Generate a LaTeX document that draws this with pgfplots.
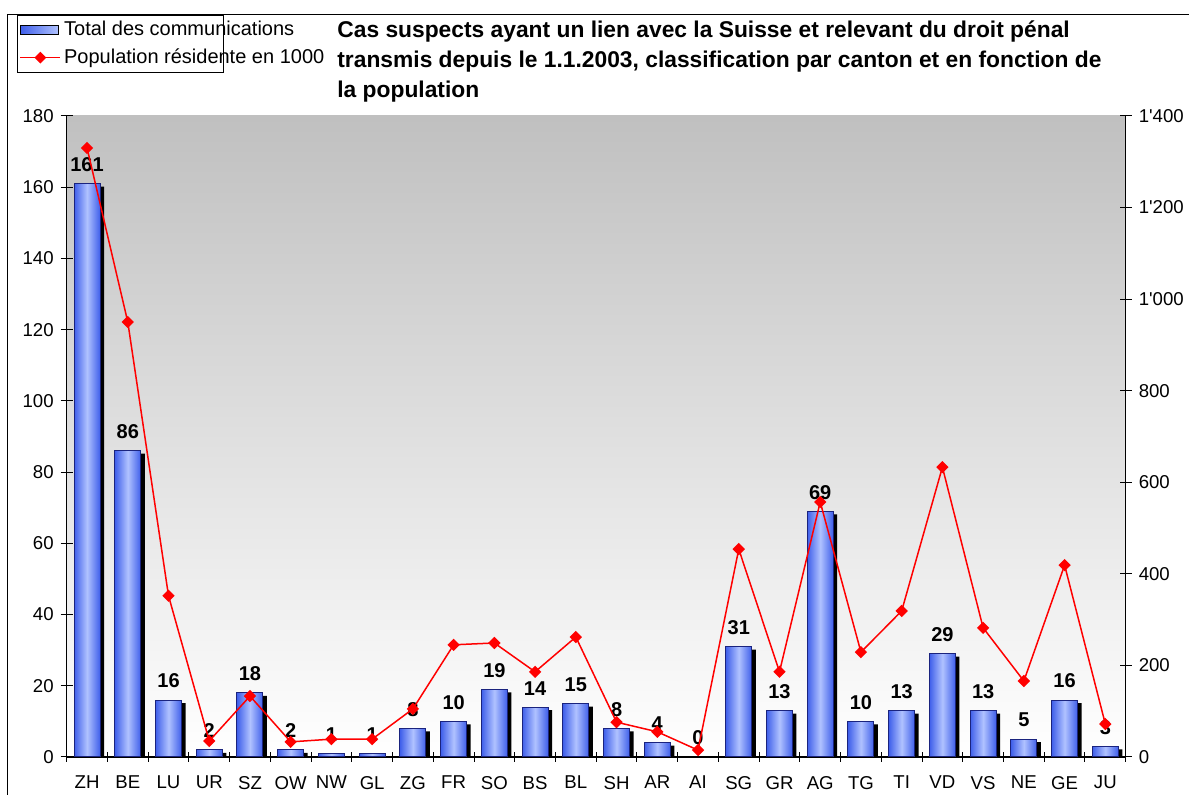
\documentclass[border=0pt]{standalone}
\usepackage{fontspec}
\setmainfont{Liberation Sans}[Ligatures=TeXOff]
\usepackage{pgfplots}
\usepackage{pgfplotstable}
\pgfplotsset{compat=1.18}

\definecolor{barDark}{HTML}{3F5FEA}
\definecolor{barLight}{HTML}{B0C2FF}
\definecolor{barEdge}{HTML}{1A237E}
\definecolor{bgTop}{HTML}{C0C0C0}
\definecolor{popRed}{HTML}{FF0000}

% canton, total communications, population in 1000
\pgfplotstableread{
idx canton total pop
0  ZH 161 1330
1  BE 86  950
2  LU 16  352
3  UR 2   35
4  SZ 18  133
5  OW 2   33
6  NW 1   39
7  GL 1   39
8  ZG 8   105
9  FR 10  245
10 SO 19  249
11 BS 14  186
12 BL 15  262
13 SH 8   76
14 AR 4   55
15 AI 0   15
16 SG 31  454
17 GR 13  186
18 AG 69  557
19 TG 10  229
20 TI 13  319
21 VD 29  633
22 VS 13  282
23 NE 5   166
24 GE 16  419
25 JU 3   72
}\cantons

\newcommand{\chartfont}{\fontsize{9.3}{11}\selectfont}

\begin{document}
\begin{tikzpicture}[x=1pt,y=1pt]
\useasboundingbox (0,0) rectangle (594.5,397.5);
\draw[line width=0.6pt] (3.65,-5) -- (3.65,390.15) -- (600,390.15);

\node[anchor=base west, font=\fontsize{11.4}{15}\selectfont\bfseries, inner sep=0pt] at (168.5,378.5) {Cas suspects ayant un lien avec la Suisse et relevant du droit pénal};
\node[anchor=base west, font=\fontsize{11.4}{15}\selectfont\bfseries, inner sep=0pt] at (168.5,363.5) {transmis depuis le 1.1.2003, classification par canton et en fonction de};
\node[anchor=base west, font=\fontsize{11.4}{15}\selectfont\bfseries, inner sep=0pt] at (168.5,348.5) {la population};

\begin{axis}[
    at={(33.35pt,19pt)}, anchor=south west,
    scale only axis, width=529.5pt, height=320.5pt,
    xmin=-0.5, xmax=25.5, ymin=0, ymax=180,
    axis x line*=bottom, axis y line*=left,
    axis line style={black, line width=0.6pt},
    axis background/.style={top color=bgTop, bottom color=white},
    xtick={0,...,25},
    xticklabels from table={\cantons}{canton},
    minor xtick={-0.5,0.5,...,25.5},
    major x tick style={draw=none},
    minor x tick style={black, line width=0.5pt},
    ytick={0,20,...,180},
    y tick style={black, line width=0.5pt},
    tick align=center,
    major tick length=6pt, minor tick length=5pt,
    tick label style={font=\chartfont},
    /pgf/number format/assume math mode=true,
    xticklabel style={yshift=-3pt},
    legend cell align=left,
    legend style={at={(-0.0469,1.158)}, anchor=north west, draw=black,
        line width=0.6pt, fill=none, font=\fontsize{10}{12}\selectfont,
        inner xsep=1pt, inner ysep=1.5pt, row sep=2pt, nodes={inner sep=1.5pt}},
]
\addplot[ybar, bar width=13pt, bar shift=2pt, yshift=-1.5pt, fill=black, draw=none, forget plot]
    table[x=idx, y=total]{\cantons};
\pgfplotsinvokeforeach{0,...,25}{
\addplot[ybar, bar width=13pt, bar shift=0pt, draw=barEdge, line width=0.5pt,
    left color=barDark, right color=barDark, middle color=barLight, forget plot,
    restrict x to domain=#1:#1, restrict y to domain=0.5:1000]
    table[x=idx, y=total]{\cantons};
}
\addplot[draw=none, mark=none, forget plot, nodes near coords,
    every node near coord/.append style={anchor=south, yshift=2.5pt,
        font=\fontsize{10}{12}\selectfont\bfseries, text=black}]
    table[x=idx, y=total]{\cantons};

\addlegendimage{legend image code/.code={\draw[draw=black, line width=0.6pt, left color=barDark, right color=barLight] (0pt,-2.25pt) rectangle (19pt,2.25pt);}}
\addlegendentry{\makebox[77pt][l]{Total des communications}}
\addlegendimage{legend image code/.code={%
    \draw[popRed, line width=0.75pt] (0pt,0pt) -- (20pt,0pt);
    \fill[popRed, rotate around={45:(10pt,0pt)}] (8.2pt,-1.8pt) rectangle (11.8pt,1.8pt);}}
\addlegendentry{\makebox[77pt][l]{Population résidente en 1000}}
\end{axis}

\begin{axis}[
    at={(33.35pt,19pt)}, anchor=south west,
    scale only axis, width=529.5pt, height=320.5pt,
    xmin=-0.5, xmax=25.5, ymin=0, ymax=1400,
    hide x axis,
    axis y line*=right,
    axis line style={black, line width=0.6pt},
    ytick={0,200,...,1400},
    y tick style={black, line width=0.5pt},
    tick align=center, major tick length=6pt,
    tick label style={font=\chartfont},
    /pgf/number format/assume math mode=true,
    /pgf/number format/1000 sep={'},
]
\addplot[popRed, line width=0.75pt, mark=square*, mark size=1.8pt,
    mark options={rotate=45, fill=popRed}]
    table[x=idx, y=pop]{\cantons};
\end{axis}
\end{tikzpicture}
\end{document}
